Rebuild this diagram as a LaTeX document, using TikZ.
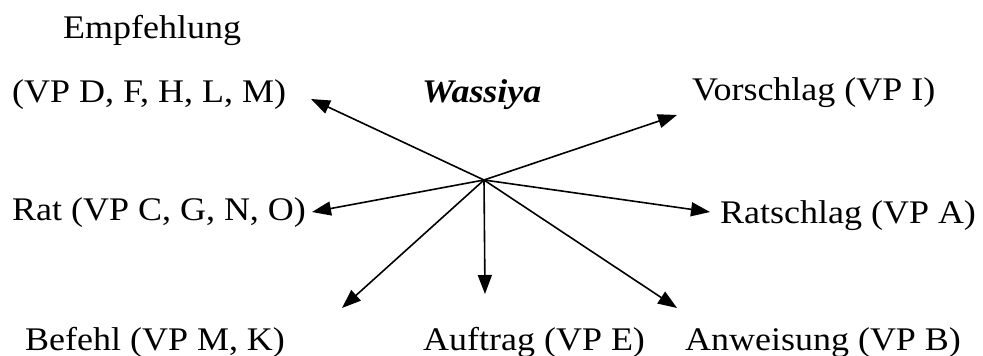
\documentclass[tikz,border=0pt]{standalone}
\usepackage{fontspec}
\setmainfont{Liberation Serif}[FakeStretch=1.09]
\usetikzlibrary{arrows.meta}
\begin{document}
\begin{tikzpicture}[x=1pt,y=-1pt,
  lbl/.style={anchor=base west,inner sep=0pt,font=\fontsize{33}{40}\selectfont},
  arr/.style={line width=1.6pt,-{Triangle[length=19pt,width=14pt]}}]
\useasboundingbox (0,0) rectangle (983,356);
\coordinate (hub) at (484,180);
\node[lbl] (emp1) at (63,38) {Empfehlung};
\node[lbl] (emp2) at (12,102) {(VP D, F, H, L, M)};
\node[lbl,font=\fontsize{33}{40}\selectfont\bfseries\itshape] (was) at (422,102) {Wassiya};
\node[lbl] (vor) at (692,100) {Vorschlag (VP I)};
\node[lbl] (rat) at (12,220) {Rat (VP C, G, N, O)};
\node[lbl] (rats) at (720,223) {Ratschlag (VP A)};
\node[lbl] (bef) at (25,350) {Befehl (VP M, K)};
\node[lbl] (auf) at (423,350) {Auftrag (VP E)};
\node[lbl] (anw) at (685,350) {Anweisung (VP B)};
\coordinate (tEmp) at (311,99);
\coordinate (tVor) at (677,115);
\coordinate (tRat) at (312,212);
\coordinate (tRats) at (710,212);
\coordinate (tBef) at (342,308);
\coordinate (tAuf) at (485,294);
\coordinate (tAnw) at (677,308);
\draw[arr] (hub) -- (tEmp);
\draw[arr] (hub) -- (tVor);
\draw[arr] (hub) -- (tRat);
\draw[arr] (hub) -- (tRats);
\draw[arr] (hub) -- (tBef);
\draw[arr] (hub) -- (tAuf);
\draw[arr] (hub) -- (tAnw);
\end{tikzpicture}
\end{document}
